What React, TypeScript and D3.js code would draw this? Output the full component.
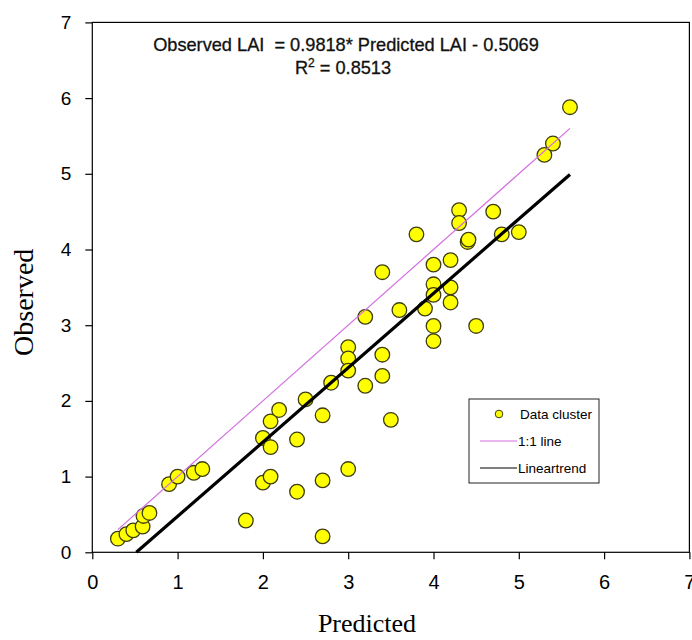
import React, { useEffect, useRef } from "react";
import * as d3 from "d3";

// values
const predicted = [
  0.3, 0.4, 0.48, 0.59, 0.6, 0.67, 0.9, 1.0, 1.19, 1.29, 1.8, 2.0, 2.09, 2.0, 2.09, 2.09, 2.19, 2.4, 2.4, 2.5,
  2.7, 2.7, 2.7, 2.8, 3.0, 3.2, 3.0, 3.0, 3.0, 3.2, 3.4, 3.4, 3.4, 3.6, 3.5, 3.8, 3.9, 4.0, 4.0, 4.0, 4.0, 4.0,
  4.2, 4.2, 4.2, 4.3, 4.3, 4.4, 4.41, 4.5, 4.7, 4.8, 5.0, 5.3, 5.4, 5.6,
];
const observed = [
  0.18, 0.24, 0.29, 0.34, 0.48, 0.52, 0.9, 1.0, 1.05, 1.1, 0.42, 0.92, 1.0, 1.51, 1.39, 1.73, 1.88, 1.49, 0.8, 2.02,
  1.81, 0.95, 0.21, 2.24, 1.1, 2.2, 2.71, 2.56, 2.4, 3.11, 2.61, 2.33, 3.7, 3.2, 1.75, 4.2, 3.22, 3.8, 3.54, 3.4, 2.99, 2.79,
  3.86, 3.5, 3.3, 4.52, 4.35, 4.1, 4.13, 2.99, 4.5, 4.2, 4.23, 5.25, 5.4, 5.88,
];
const ticks = [0, 1, 2, 3, 4, 5, 6, 7];
const oneToOne = [0.3, 5.6];
const slope = 0.9818;
const intercept = -0.5069;
const trendX = [-intercept / slope, 5.6];
const legendItems = ["Data cluster", "1:1 line", "Lineartrend"];

const sans = "Liberation Sans, Arial, sans-serif";
const serif = "Liberation Serif, Times New Roman, serif";

export default function App() {
  const ref = useRef<SVGSVGElement>(null);

  useEffect(() => {
    const svg = d3.select(ref.current);
    svg.selectAll("*").remove();
    const left = 92.3, right = 689.4, top = 22.4, bottom = 552.3;
    const x = d3.scaleLinear().domain([0, 7]).range([left, right]);
    const y = d3.scaleLinear().domain([0, 7]).range([bottom, top]);

    // frame
    svg.append("rect")
      .attr("x", left).attr("y", top)
      .attr("width", right - left).attr("height", bottom - top)
      .attr("fill", "white").attr("stroke", "black").attr("stroke-width", 1.2);

    const xAxis = svg.append("g")
      .attr("transform", `translate(0,${bottom})`)
      .call(d3.axisBottom(x).tickValues(ticks).tickSize(7).tickPadding(16).tickFormat(d3.format("d")));
    const yAxis = svg.append("g")
      .attr("transform", `translate(${left},0)`)
      .call(d3.axisLeft(y).tickValues(ticks).tickSize(7).tickPadding(14).tickFormat(d3.format("d")));
    [xAxis, yAxis].forEach((g, i) => {
      g.select(".domain").remove();
      g.selectAll("line").attr("stroke", "black").attr("stroke-width", 1.2);
      g.selectAll("text").attr("font-family", sans).attr("font-size", i === 0 ? 20 : 19).attr("fill", "black");
    });

    // points
    svg.append("g")
      .selectAll("circle")
      .data(predicted.map((p, i) => [p, observed[i]]))
      .join("circle")
      .attr("cx", (d) => x(d[0]))
      .attr("cy", (d) => y(d[1]))
      .attr("r", 7.3)
      .attr("fill", "#ffff00")
      .attr("stroke", "#3d3d10")
      .attr("stroke-width", 1.3);

    // 1:1 and trend lines
    svg.append("line")
      .attr("x1", x(oneToOne[0])).attr("y1", y(oneToOne[0]))
      .attr("x2", x(oneToOne[1])).attr("y2", y(oneToOne[1]))
      .attr("stroke", "#d36ee0").attr("stroke-width", 1.2);
    svg.append("line")
      .attr("x1", x(trendX[0])).attr("y1", y(slope * trendX[0] + intercept))
      .attr("x2", x(trendX[1])).attr("y2", y(slope * trendX[1] + intercept))
      .attr("stroke", "black").attr("stroke-width", 3.2);

    // equation
    svg.append("text")
      .attr("x", 346).attr("y", 51)
      .attr("text-anchor", "middle")
      .attr("font-family", sans)
      .attr("font-size", 18.2).attr("fill", "#111")
      .attr("stroke", "#111").attr("stroke-width", 0.3)
      .style("white-space", "pre")
      .text("Observed LAI  = 0.9818* Predicted LAI - 0.5069");
    const r2 = svg.append("text")
      .attr("x", 343).attr("y", 74)
      .attr("text-anchor", "middle")
      .attr("font-family", sans)
      .attr("font-size", 18.2).attr("fill", "#111")
      .attr("stroke", "#111").attr("stroke-width", 0.3);
    r2.append("tspan").text("R");
    r2.append("tspan").attr("dy", -7).attr("font-size", 12).text("2");
    r2.append("tspan").attr("dy", 7).text(" = 0.8513");

    // axis titles
    svg.append("text")
      .attr("x", 367).attr("y", 632)
      .attr("text-anchor", "middle")
      .attr("font-family", serif)
      .attr("font-size", 26)
      .text("Predicted");
    svg.append("text")
      .attr("transform", `translate(33,${(top + bottom) / 2 + 15}) rotate(-90)`)
      .attr("text-anchor", "middle")
      .attr("font-family", serif)
      .attr("font-size", 28)
      .text("Observed");

    // legend
    const lg = svg.append("g").attr("transform", "translate(469,399)");
    lg.append("rect").attr("width", 130).attr("height", 84)
      .attr("fill", "white").attr("stroke", "#222").attr("stroke-width", 1);
    legendItems.forEach((name, i) => {
      const cy = 15 + i * 27;
      if (i === 0) {
        lg.append("circle").attr("cx", 30).attr("cy", cy).attr("r", 3.8)
          .attr("fill", "#ffff00").attr("stroke", "#3d3d10").attr("stroke-width", 1);
      } else {
        lg.append("line").attr("x1", 11).attr("x2", 48).attr("y1", cy).attr("y2", cy)
          .attr("stroke", i === 1 ? "#d36ee0" : "black").attr("stroke-width", 1.2);
      }
      lg.append("text")
        .attr("x", i === 0 ? 51 : 49).attr("y", cy + 5)
        .attr("font-family", sans)
        .attr("font-size", 13.5)
        .text(name);
    });
  }, []);

  return (
    <svg ref={ref} width={692} height={640} style={{ position: "absolute", left: 0, top: 0, background: "white" }} />
  );
}
